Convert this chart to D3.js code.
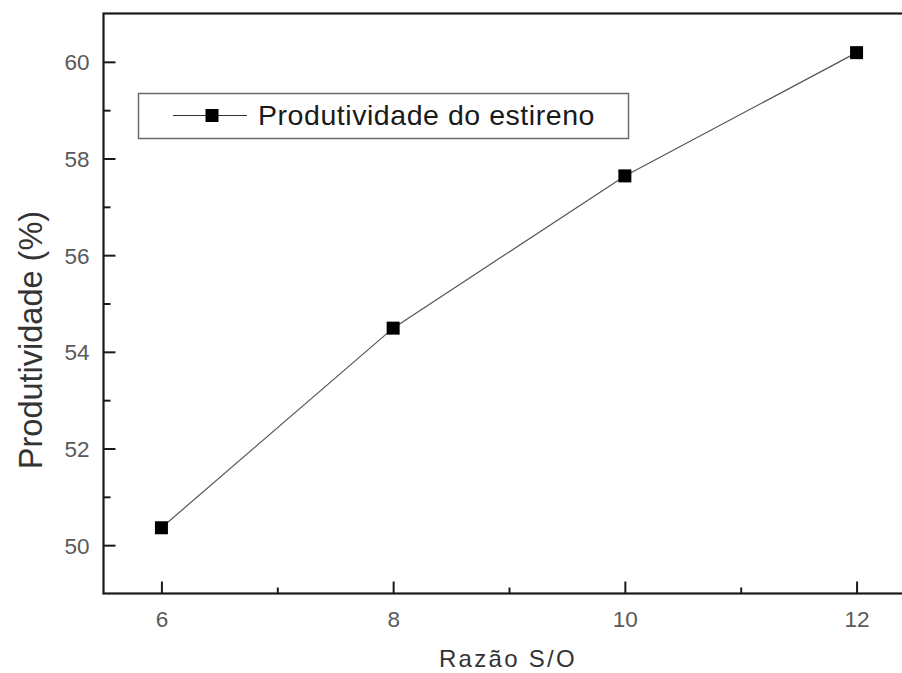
<!DOCTYPE html>
<html>
<head>
<meta charset="utf-8">
<script src="https://cdn.jsdelivr.net/npm/d3@7"></script>
<style>
  html, body { margin: 0; padding: 0; background: #fff; }
  svg { display: block; font-family: "Liberation Sans", Arial, sans-serif; }
</style>
</head>
<body>
<svg id="chart" width="902" height="673"></svg>
<script>
// S/O ratio and styrene productivity (%)
const ratios = [6, 8, 10, 12];
const productivity = [50.36, 54.49, 57.64, 60.19];
const xMajorTicks = [6, 8, 10, 12];
const xMinorTicks = [7, 9, 11];
const yMajorTicks = [50, 52, 54, 56, 58, 60];
const yMinorTicks = [51, 53, 55, 57, 59];
const seriesName = "Produtividade do estireno";
const xTitle = "Razão S/O";
const yTitle = "Produtividade (%)";

const svg = d3.select("#chart");
const margin = { left: 103.5, top: 13.5, right: 914.5, bottom: 593.5 };

const x = d3.scaleLinear().domain([5.5, 12.5]).range([margin.left, margin.right]);
const y = d3.scaleLinear().domain([49, 61]).range([margin.bottom, margin.top]);

const axisColor = "#1a1a1a";
const tickLabelColor = "#5a5a5a";

// Bottom axis: ticks pointing up into the plot
const gx = svg.append("g").attr("transform", `translate(0,${margin.bottom})`);
gx.call(d3.axisBottom(x).tickValues(xMajorTicks).tickSizeInner(-12).tickSizeOuter(0).tickPadding(18).tickFormat(d3.format("d")));
const gxMinor = svg.append("g").attr("transform", `translate(0,${margin.bottom})`);
gxMinor.call(d3.axisBottom(x).tickValues(xMinorTicks).tickSizeInner(-6).tickSizeOuter(0).tickFormat(""));

// Left axis: ticks pointing right into the plot
const gy = svg.append("g").attr("transform", `translate(${margin.left},0)`);
gy.call(d3.axisLeft(y).tickValues(yMajorTicks).tickSizeInner(-12).tickSizeOuter(0).tickPadding(14).tickFormat(d3.format("d")));
const gyMinor = svg.append("g").attr("transform", `translate(${margin.left},0)`);
gyMinor.call(d3.axisLeft(y).tickValues(yMinorTicks).tickSizeInner(-7).tickSizeOuter(0).tickFormat(""));

svg.selectAll(".domain").remove();
svg.selectAll(".tick line").attr("stroke", axisColor).attr("stroke-width", 2);
gx.selectAll(".tick text").attr("font-size", 22.5).attr("fill", tickLabelColor).attr("font-family", "Liberation Sans, Arial, sans-serif");
gy.selectAll(".tick text").attr("font-size", 22.5).attr("fill", tickLabelColor).attr("font-family", "Liberation Sans, Arial, sans-serif").attr("dy", "0.36em");

// Frame
svg.append("rect")
  .attr("x", margin.left).attr("y", margin.top)
  .attr("width", margin.right - margin.left).attr("height", margin.bottom - margin.top)
  .attr("fill", "none").attr("stroke", axisColor).attr("stroke-width", 2.2);

// Series line and markers
const pts = ratios.map((r, i) => [r, productivity[i]]);
svg.append("path")
  .datum(pts)
  .attr("fill", "none")
  .attr("stroke", "#555")
  .attr("stroke-width", 1.2)
  .attr("d", d3.line().x(d => x(d[0])).y(d => y(d[1])));

const ms = 13;
svg.selectAll("rect.marker")
  .data(pts)
  .join("rect")
  .attr("class", "marker")
  .attr("x", d => x(d[0]) - ms / 2)
  .attr("y", d => y(d[1]) - ms / 2)
  .attr("width", ms).attr("height", ms)
  .attr("fill", "#000");

// Legend
const lg = svg.append("g");
lg.append("rect")
  .attr("x", 138.5).attr("y", 93.5).attr("width", 490).attr("height", 45)
  .attr("fill", "#fff").attr("stroke", "#6a6a6a").attr("stroke-width", 1.5);
lg.append("line")
  .attr("x1", 173).attr("x2", 247).attr("y1", 115.5).attr("y2", 115.5)
  .attr("stroke", "#333").attr("stroke-width", 1.2);
lg.append("rect")
  .attr("x", 212 - ms / 2).attr("y", 115.5 - ms / 2).attr("width", ms).attr("height", ms)
  .attr("fill", "#000");
lg.append("text")
  .attr("x", 258).attr("y", 124.5)
  .attr("font-size", 28.5).attr("letter-spacing", 0.55)
  .attr("fill", "#1a1a1a")
  .text(seriesName);

// Axis titles
svg.append("text")
  .attr("x", 508).attr("y", 667)
  .attr("text-anchor", "middle")
  .attr("font-size", 24).attr("letter-spacing", 2.3)
  .attr("fill", "#333")
  .text(xTitle);

svg.append("text")
  .attr("transform", "translate(42,340) rotate(-90)")
  .attr("text-anchor", "middle")
  .attr("font-size", 32.5)
  .attr("fill", "#333")
  .text(yTitle);
</script>
</body>
</html>
